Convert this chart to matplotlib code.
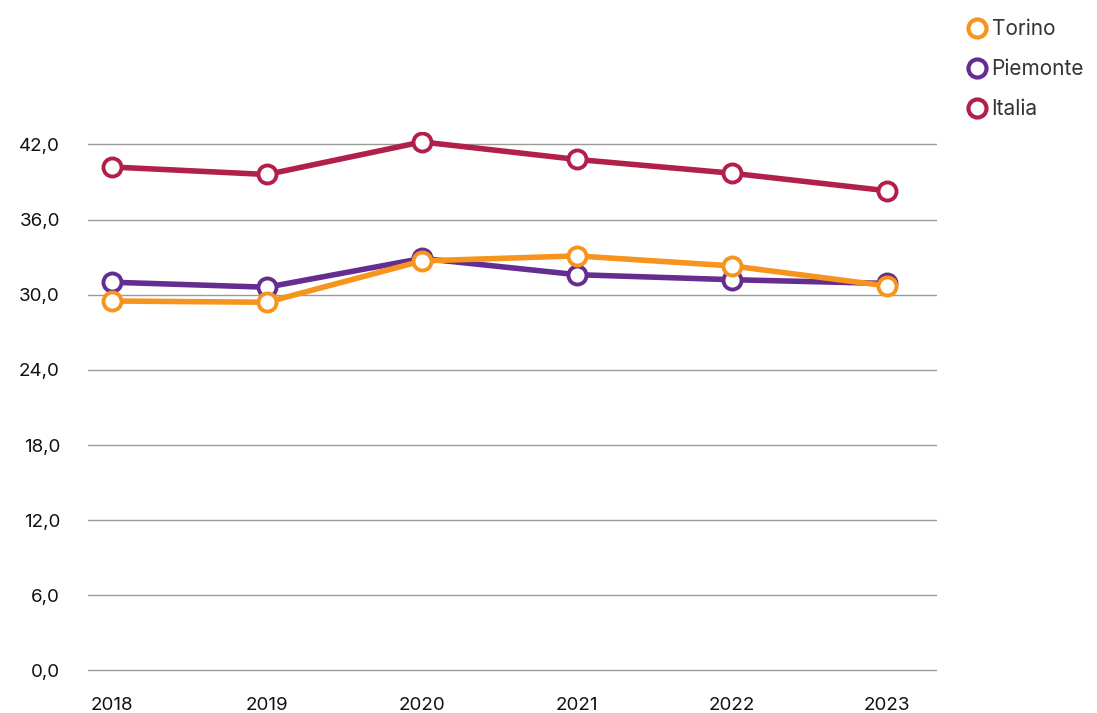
import matplotlib.pyplot as plt
from matplotlib.lines import Line2D
from matplotlib.ticker import FuncFormatter

years = [2018, 2019, 2020, 2021, 2022, 2023]
torino = [29.5, 29.4, 32.7, 33.1, 32.3, 30.7]
piemonte = [31.0, 30.6, 32.9, 31.6, 31.2, 30.9]
italia = [40.2, 39.6, 42.2, 40.8, 39.7, 38.3]

series = [
    ("Italia", italia, "#B0204A"),
    ("Piemonte", piemonte, "#662D91"),
    ("Torino", torino, "#F7941D"),
]

plt.rcParams['font.family'] = ['Inter', 'DejaVu Sans']

fig = plt.figure(figsize=(10.97, 7.13), dpi=100)
ax = fig.add_axes([0.080, 0.057, 0.774, 0.758])

for name, vals, color in series:
    ax.plot(years, vals, color=color, linewidth=4, marker="o", markersize=13,
            markerfacecolor="white", markeredgecolor=color, markeredgewidth=2.8,
            solid_capstyle="round", zorder=3)

ax.set_xlim(2017.845, 2023.32)
ax.set_ylim(-0.15, 43)
ax.set_yticks([0, 6, 12, 18, 24, 30, 36, 42])
ax.yaxis.set_major_formatter(FuncFormatter(lambda v, p: f"{v:.1f}".replace(".", ",")))
ax.set_xticks(years)
ax.grid(axis="y", color="#9a9a9a", linewidth=1)
ax.set_axisbelow(True)
for s in ax.spines.values():
    s.set_visible(False)
ax.tick_params(length=0, labelsize=13.5, colors="#111111")
ax.tick_params(axis="y", pad=20)
ax.tick_params(axis="x", pad=18)

handles = [Line2D([], [], linestyle="none", marker="o", markersize=13,
                  markerfacecolor="white", markeredgecolor=c, markeredgewidth=3)
           for _, _, c in series[::-1]]
labels = [n for n, _, _ in series[::-1]]
fig.legend(handles, labels, loc="upper left", bbox_to_anchor=(0.864, 0.999),
           frameon=False, fontsize=15, handletextpad=0.2, labelspacing=0.95,
           handlelength=1.0, labelcolor="#333333")

fig.savefig("out.png", dpi=100)
